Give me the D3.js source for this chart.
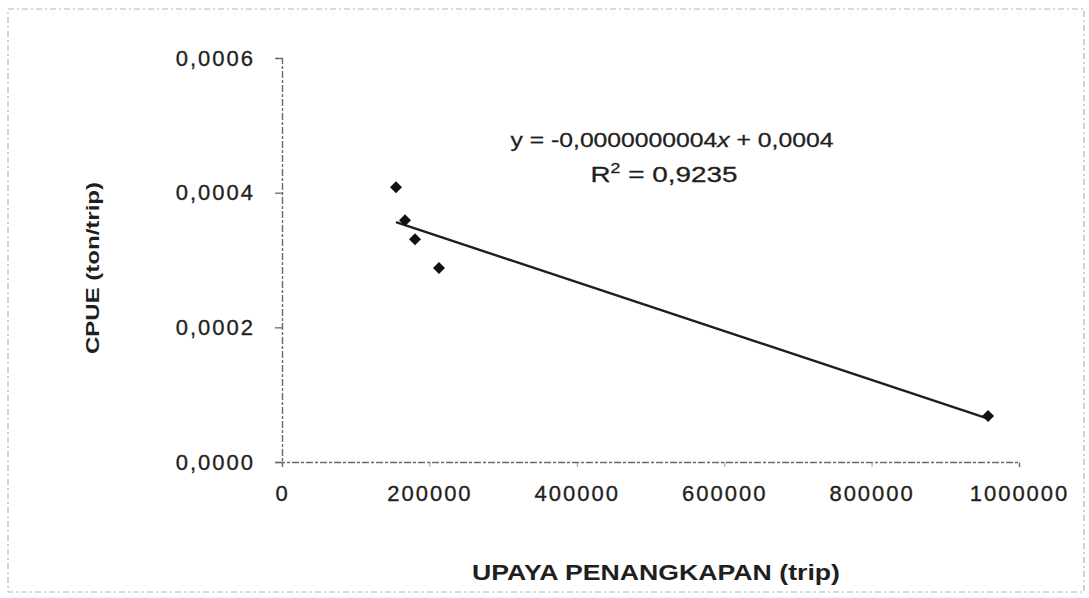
<!DOCTYPE html>
<html>
<head>
<meta charset="utf-8">
<script src="https://cdn.jsdelivr.net/npm/d3@7"></script>
<style>
  html, body { margin: 0; padding: 0; background: #fff; }
  svg { display: block; font-family: "Liberation Sans", Arial, sans-serif; }
</style>
</head>
<body>
<svg id="chart" width="1089" height="598"></svg>
<script>
// data
const effortTrips = [154700, 166900, 180500, 213000, 958000];
const cpueValues = [0.000408, 0.000359, 0.000331, 0.000288, 0.0000683];
const xTicks = [0, 200000, 400000, 600000, 800000, 1000000];
const yTicks = [0, 0.0002, 0.0004, 0.0006];
const equationLabel = "y = -0,0000000004";
const r2Label = "0,9235";

const svg = d3.select('#chart');
const ink = '#1f1f1f';
const axisInk = '#6b6b6b';

// frame of the scanned chart
svg.append('rect')
  .attr('x', 8).attr('y', 9)
  .attr('width', 1076).attr('height', 583)
  .attr('fill', 'none')
  .attr('stroke', '#b5b5b5')
  .attr('stroke-width', 1.2)
  .attr('stroke-dasharray', '6,3,2,3');

// ==================== SCALES ====================
const x = d3.scaleLinear().domain([0, 1000000]).range([282, 1019]);
const y = d3.scaleLinear().domain([0, 0.0006]).range([462, 58]);

const comma = f => v => f(v).replace('.', ',');

// ==================== AXES ====================
const yAxis = svg.append('g')
  .attr('transform', `translate(${x(0)},0)`)
  .call(d3.axisLeft(y).tickValues(yTicks).tickSize(7).tickPadding(20)
    .tickFormat(comma(d3.format('.4f'))));

const xAxis = svg.append('g')
  .attr('transform', `translate(0,${y(0)})`)
  .call(d3.axisBottom(x).tickValues(xTicks).tickSize(5).tickPadding(18)
    .tickFormat(d3.format('d')));

[yAxis, xAxis].forEach(ax => {
  ax.select('.domain')
    .attr('stroke', axisInk)
    .attr('stroke-width', 1.4)
    .attr('stroke-dasharray', '7,2,3,2');
  ax.selectAll('.tick line').attr('stroke', axisInk).attr('stroke-width', 1.3);
  ax.selectAll('.tick text')
    .attr('fill', ink)
    .attr('stroke', ink)
    .attr('stroke-width', 0.35)
    .style('font-size', '22px')
    .attr('letter-spacing', '2px');
});
xAxis.selectAll('.tick line').attr('opacity', 0.5);

// ==================== AXIS TITLES ====================
svg.append('text')
  .attr('x', 656).attr('y', 580)
  .attr('text-anchor', 'middle')
  .attr('fill', ink)
  .attr('textLength', 368)
  .attr('lengthAdjust', 'spacingAndGlyphs')
  .style('font-size', '22px')
  .style('font-weight', 'bold')
  .text('UPAYA PENANGKAPAN (trip)');

svg.append('text')
  .attr('transform', 'translate(99,268) rotate(-90)')
  .attr('text-anchor', 'middle')
  .attr('fill', ink)
  .attr('textLength', 172)
  .attr('lengthAdjust', 'spacingAndGlyphs')
  .style('font-size', '19px')
  .style('font-weight', 'bold')
  .text('CPUE (ton/trip)');

// ==================== TRENDLINE (least squares) ====================
const mx = d3.mean(effortTrips), my = d3.mean(cpueValues);
const sxy = d3.sum(effortTrips, (v, i) => (v - mx) * (cpueValues[i] - my));
const sxx = d3.sum(effortTrips, v => (v - mx) ** 2);
const slope = sxy / sxx, intercept = my - slope * mx;
const xExt = d3.extent(effortTrips);

svg.append('line')
  .attr('x1', x(xExt[0])).attr('y1', y(intercept + slope * xExt[0]))
  .attr('x2', x(xExt[1])).attr('y2', y(intercept + slope * xExt[1]))
  .attr('stroke', '#1e1e1e')
  .attr('stroke-width', 2.4);

// ==================== POINTS ====================
svg.selectAll('.pt')
  .data(effortTrips)
  .enter()
  .append('path')
  .attr('class', 'pt')
  .attr('d', d3.symbol(d3.symbolSquare, 72))
  .attr('transform', (d, i) => `translate(${x(d)},${y(cpueValues[i])}) rotate(45)`)
  .attr('fill', '#111');

// ==================== EQUATION ====================
const eq = svg.append('text')
  .attr('x', 672).attr('y', 147)
  .attr('text-anchor', 'middle')
  .attr('fill', ink)
  .attr('stroke', ink)
  .attr('stroke-width', 0.3)
  .attr('textLength', 323)
  .attr('lengthAdjust', 'spacingAndGlyphs')
  .style('font-size', '21px');
eq.append('tspan').text(equationLabel);
eq.append('tspan').style('font-style', 'italic').text('x');
eq.append('tspan').text('  + 0,0004');

const r2 = svg.append('text')
  .attr('x', 664).attr('y', 182)
  .attr('text-anchor', 'middle')
  .attr('fill', ink)
  .attr('stroke', ink)
  .attr('stroke-width', 0.3)
  .style('font-size', '22px');
r2.append('tspan').text('R');
r2.append('tspan').attr('dy', -9).style('font-size', '14px').text('2');
r2.append('tspan').attr('dy', 9).text(' = ' + r2Label);
r2.attr('textLength', 147).attr('lengthAdjust', 'spacingAndGlyphs');
</script>
</body>
</html>
